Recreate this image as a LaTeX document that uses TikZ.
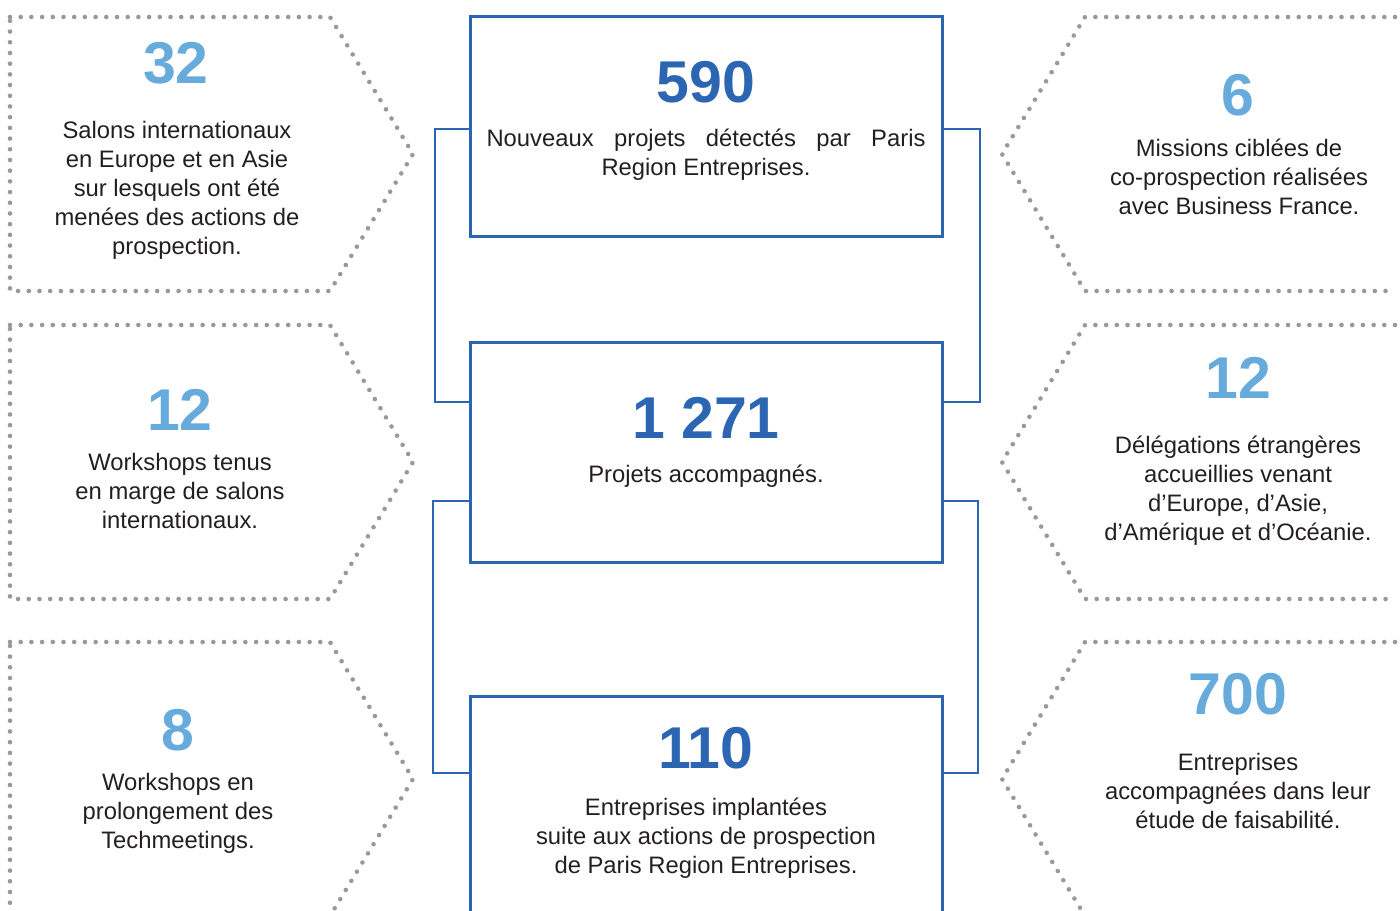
\documentclass[tikz,border=0pt]{standalone}
\usepackage{fontspec}
\setmainfont{Liberation Sans}
\usepackage{tikz}
\definecolor{lightblue}{HTML}{67ABDD}
\definecolor{darkblue}{HTML}{2C66B2}
\definecolor{dotgray}{HTML}{999999}
\definecolor{ink}{HTML}{231F20}

\begin{document}
\begin{tikzpicture}[x=0.5pt, y=-0.5pt,
		dotbox/.style={dotgray, line width=2.3pt, line cap=round, dash pattern=on 0pt off 5.35pt},
		statbox/.style={draw=darkblue, line width=1.5pt, minimum width=236pt, minimum height=110pt, outer sep=0pt},
		link/.style={darkblue, line width=1.2pt},
		bignum/.style={font=\fontsize{29.5}{32}\selectfont\bfseries, inner sep=0pt},
		sidenum/.style={bignum, lightblue},
		midnum/.style={bignum, darkblue},
		blurb/.style={ink, align=center, inner sep=0pt, font=\fontsize{11.9}{14.5}\selectfont}]
			\useasboundingbox (0,0) rectangle (1400,910);
			% dotted side panels
			\foreach \y in {17,325,642} {
				\draw[dotbox] (10,\y) -- (330,\y) -- ++(83,137) -- ++(-83,137) -- (10,{\y+274}) -- cycle;
				\draw[dotbox] (1395,\y) -- (1085,\y) -- ++(-83,137) -- ++(83,137) -- (1395,{\y+274});
			}
			% central boxes
			\node[statbox] (detectes) at (706,126) {};
			\node[statbox] (accomp) at (706,452) {};
			\node[statbox] (implant) at (706,806) {};
			\draw[link] ([yshift=-1.5pt]detectes.west) -- ++(-35,0) |- ([yshift=25pt]accomp.west);
			\draw[link] ([yshift=-1.5pt]detectes.east) -- ++(38,0) |- ([yshift=25pt]accomp.east);
			\draw[link] ([yshift=-24.5pt]accomp.west) -- ++(-37,0) |- ([yshift=16.5pt]implant.west);
			\draw[link] ([yshift=-24.5pt]accomp.east) -- ++(36,0) |- ([yshift=16.5pt]implant.east);
			\node[midnum] (n590) at (706,82) {590};
			\node[blurb] (t590) at (706,155) {\makebox[219.5pt][s]{Nouveaux projets détectés par Paris}\\Region Entreprises.};
			\node[midnum] (n1271) at (706,418) {1 271};
			\node[blurb] (t1271) at (706,476) {Projets accompagnés.};
			\node[midnum] (n110) at (706,748) {110};
			\node[blurb] (t110) at (706,838) {Entreprises implantées\\suite aux actions de prospection\\de Paris Region Entreprises.};
			% left figures
			\node[sidenum] (salons) at (176,63) {32};
			\node[blurb] (tsalons) at (177,190) {Salons internationaux\\en Europe et en Asie\\sur lesquels ont été\\menées des actions de\\prospection.};
			\node[sidenum] (wshop) at (180,410) {12};
			\node[blurb] (twshop) at (180,491) {Workshops tenus\\en marge de salons\\internationaux.};
			\node[sidenum] (tech) at (178,730) {8};
			\node[blurb] (ttech) at (178,813) {Workshops en\\prolongement des\\Techmeetings.};
			% right figures
			\node[sidenum] (missions) at (1238,95) {6};
			\node[blurb] (tmissions) at (1239,177) {Missions ciblées de\\co-prospection réalisées\\avec Business France.};
			\node[sidenum] (deleg) at (1238,378) {12};
			\node[blurb] (tdeleg) at (1238,491) {Délégations étrangères\\accueillies venant\\d’Europe, d’Asie,\\d’Amérique et d’Océanie.};
			\node[sidenum] (etude) at (1238,694) {700};
			\node[blurb] (tetude) at (1238,791) {Entreprises\\accompagnées dans leur\\étude de faisabilité.};
\end{tikzpicture}
\end{document}
